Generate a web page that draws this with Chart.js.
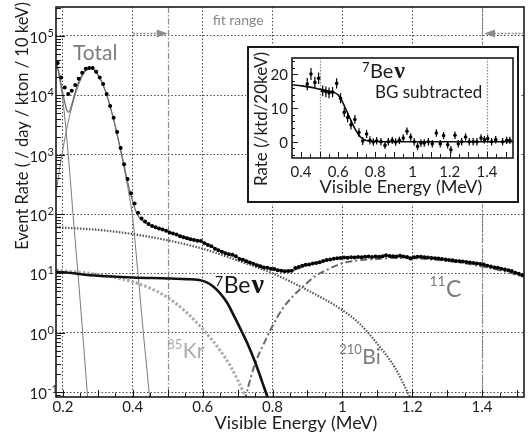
<!DOCTYPE html>
<html>
<head>
<meta charset="utf-8">
<title>7Be neutrino spectrum</title>
<script src="https://cdn.jsdelivr.net/npm/chart.js@4.4.1/dist/chart.umd.min.js"></script>
<style>
    body { margin: 0; background: #fff; }
    #wrap { position: relative; width: 528px; height: 434px; overflow: hidden; }
    #mainChart { position: absolute; left: 0; top: 0; }
    #insetChart { position: absolute; left: 246px; top: 45px; }
</style>
</head>
<body>
<div id="wrap">
    <canvas id="mainChart" width="528" height="434"></canvas>
    <canvas id="insetChart" width="274" height="159"></canvas>
</div>
<script>
const FONT = 'Lato, "Open Sans", sans-serif';
const NU_FONT = '"Liberation Serif", "DejaVu Serif", serif';

// Measured event rate, 10 keV bins starting at 0.185 MeV
const binStart = 0.185;
const binWidth = 0.01;
const eventRate = [
    35000, 20000, 13500, 10500, 12000, 15000, 19000, 24000, 28000, 29000,
    29000, 25000, 20000, 15500, 10500, 6600, 4200, 2400, 1300, 690,
    390, 224, 151, 105, 84, 75, 68, 63, 60, 57,
    55, 52, 49, 47, 45, 42, 40.5, 39, 37.5, 36.5,
    35.5, 35, 32, 30, 28.5, 26, 24.5, 23, 21.8, 21,
    20.5, 19.5, 17.5, 17, 16, 15.2, 14.5, 13.7, 13.2, 12.6,
    12.4, 12, 11.8, 11.3, 11.1, 10.8, 10.9, 11.1, 12.3, 12.8,
    13.4, 13.9, 14.1, 14.6, 15.0, 15.4, 16.2, 16.8, 17.1, 17.6,
    18.0, 18.2, 18.5, 18.3, 18.7, 18.5, 18.9, 18.6, 19.0, 19.2,
    18.8, 19.3, 19.0, 19.4, 20.2, 19.6, 19.5, 19.2, 19.7, 19.3,
    18.9, 17.8, 18.6, 19.0, 19.1, 18.7, 18.5, 18.2, 17.9, 17.8,
    17.5, 17.1, 16.8, 16.6, 16.2, 16.0, 15.8, 15.5, 15.2, 15.0,
    14.7, 14.3, 14.1, 13.4, 13.0, 12.6, 12.4, 11.9, 11.6, 11.3,
    10.9, 10.2, 9.8, 9.3
];

// Fit components (energy in MeV, rate per day/kton/10 keV)
const totalEnergy = [0.182, 0.19, 0.195, 0.20, 0.206, 0.212, 0.216, 0.222, 0.23, 0.24, 0.25, 0.26, 0.27, 0.28, 0.29,
    0.30, 0.31, 0.32, 0.33, 0.34, 0.35, 0.36, 0.37, 0.38, 0.39, 0.40, 0.41, 0.42, 0.43, 0.44, 0.46, 0.48,
    0.50, 0.55, 0.60, 0.65, 0.70, 0.75, 0.80, 0.85, 0.90, 0.95, 1.0, 1.05, 1.1, 1.15, 1.2, 1.25, 1.3, 1.35,
    1.4, 1.45, 1.52];
const totalRate = [36000, 22000, 15000, 10500, 7200, 5500, 5200, 6000, 8800, 14000, 19500, 24500, 27500, 28500, 27000,
    22000, 17500, 12600, 8300, 5100, 3000, 1650, 900, 480, 260, 160, 106, 85, 75, 69, 61, 56,
    51, 41, 34, 24.5, 18.8, 14.5, 12.0, 11.0, 13.8, 16.3, 18.2, 18.9, 19.3, 19.5, 19.0, 18.4, 17.0, 15.7,
    14.2, 12.2, 9.2];

const c14Energy = [0.181, 0.19, 0.195, 0.20, 0.206, 0.215, 0.22, 0.229, 0.24, 0.25, 0.26, 0.27, 0.275];
const c14Rate = [38000, 19000, 13000, 8000, 3800, 1000, 450, 95, 16, 3, 0.52, 0.09, 0.04];

const po210Energy = [0.181, 0.19, 0.20, 0.21, 0.22, 0.23, 0.24, 0.25, 0.26, 0.27, 0.28, 0.29, 0.30, 0.31, 0.32,
    0.33, 0.34, 0.35, 0.36, 0.37, 0.38, 0.39, 0.40, 0.41, 0.42, 0.43, 0.44, 0.45];
const po210Rate = [240, 560, 1250, 2600, 4800, 8000, 12500, 18000, 23500, 27000, 28500, 27000, 22000, 17000, 12300,
    8100, 5000, 2900, 1600, 850, 420, 200, 83, 20, 4.5, 1.0, 0.25, 0.06];

const bi210Energy = [0.18, 0.2, 0.3, 0.4, 0.5, 0.6, 0.7, 0.8, 0.9, 1.0, 1.05, 1.1, 1.15, 1.19, 1.21];
const bi210Rate = [60, 59, 54, 46, 36, 26, 16.5, 10, 5.2, 2.4, 1.4, 0.65, 0.26, 0.09, 0.05];

const kr85Energy = [0.18, 0.2, 0.25, 0.3, 0.35, 0.4, 0.45, 0.5, 0.55, 0.6, 0.65, 0.68, 0.70, 0.72, 0.73];
const kr85Rate = [11.5, 11, 10.4, 9.6, 8.5, 7.2, 5.6, 3.9, 2.3, 1.15, 0.5, 0.27, 0.16, 0.09, 0.065];

const be7Energy = [0.18, 0.2, 0.3, 0.4, 0.5, 0.55, 0.59, 0.61, 0.63, 0.65, 0.67, 0.69, 0.71, 0.73, 0.75, 0.77, 0.79, 0.80];
const be7Rate = [10.6, 10.4, 9.1, 8.5, 8.2, 8.0, 7.7, 7.1, 6.0, 4.6, 3.2, 1.9, 1.1, 0.62, 0.32, 0.15, 0.07, 0.05];

const c11Energy = [0.72, 0.73, 0.75, 0.78, 0.80, 0.83, 0.86, 0.89, 0.92, 0.95, 1.0, 1.05, 1.1, 1.15, 1.2, 1.25,
    1.3, 1.35, 1.4, 1.45, 1.52];
const c11Rate = [0.07, 0.12, 0.3, 0.75, 1.3, 2.6, 4.2, 6.2, 8.8, 11.0, 14.8, 16.6, 17.5, 18.2, 18.0, 17.3,
    16.2, 14.8, 13.0, 11.3, 8.8];

// Axis ticks
const xGridValues = [0.2, 0.4, 0.6, 0.8, 1.0, 1.2, 1.4];
const xTickLabels = ['0.2', '0.4', '0.6', '0.8', '1', '1.2', '1.4'];
const yDecades = [-1, 0, 1, 2, 3, 4, 5];
const fitRange = [0.5, 1.4];
const fitArrowLevel = 1.12e5;

// Inset: 7Be spectrum after background subtraction (20 keV bins)
const insetEnergy = [0.434, 0.454, 0.475, 0.495, 0.517, 0.534, 0.551, 0.570, 0.592, 0.613, 0.633, 0.651, 0.669,
    0.690, 0.712, 0.732, 0.753, 0.771, 0.789, 0.807, 0.830, 0.852, 0.870, 0.891, 0.909, 0.929, 0.950, 0.970,
    0.990, 1.009, 1.027, 1.045, 1.063, 1.085, 1.106, 1.128, 1.149, 1.167, 1.189, 1.206, 1.228, 1.246, 1.264,
    1.285, 1.305, 1.326, 1.346, 1.368, 1.386, 1.404, 1.425, 1.447, 1.484, 1.506, 1.523];
const insetRate = [17.1, 20.1, 17.6, 18.8, 15.1, 14.8, 14.5, 14.7, 17.3, 12.9, 8.7, 7.2, 5.0,
    6.6, 2.7, 0.2, 2.3, 0.4, -0.1, 0.3, 0.0, -1.1, 0.0, 0.4, -0.1, 0.4, 1.1, 3.1,
    1.4, 0.0, -1.4, -0.4, -0.4, 0.0, -0.6, 2.6, -0.6, 1.8, -0.9, -2.4, 1.9, -0.6, 0.0,
    1.4, 0.0, 0.0, 0.0, 1.1, 0.6, 0.9, 0.0, 0.6, 0.0, 0.4, 0.4];
const insetError = [1.8, 1.8, 1.7, 1.7, 1.6, 1.6, 1.6, 1.5, 1.5, 1.5, 1.4, 1.4, 1.4,
    1.3, 1.3, 1.2, 1.2, 1.2, 1.1, 1.1, 1.1, 1.1, 1.1, 1.1, 1.1, 1.1, 1.1, 1.1,
    1.1, 1.1, 1.1, 1.1, 1.1, 1.1, 1.1, 1.1, 1.1, 1.1, 1.1, 1.1, 1.1, 1.1, 1.1,
    1.1, 1.1, 1.1, 1.1, 1.1, 1.1, 1.1, 1.1, 1.1, 1.1, 1.1, 1.1];
const insetFitEnergy = [0.352, 0.40, 0.45, 0.50, 0.55, 0.58, 0.60, 0.62, 0.64, 0.66, 0.68, 0.70, 0.72, 0.74,
    0.77, 0.80, 0.85, 0.95, 1.2, 1.54];
const insetFitRate = [16.9, 16.6, 16.2, 15.6, 15.0, 14.6, 13.9, 12.2, 9.8, 7.4, 5.0, 2.9, 1.4, 0.6,
    0.15, 0.04, 0, 0, 0, 0];
const insetXTicks = [0.4, 0.6, 0.8, 1.0, 1.2, 1.4];
const insetXLabels = ['0.4', '0.6', '0.8', '1', '1.2', '1.4'];
const insetYTicks = [0, 10, 20];

document.addEventListener('DOMContentLoaded', function() {
    drawMainChart();
    drawInsetChart();
});

function toPoints(xs, ys) {
    return xs.map((x, i) => ({ x: x, y: ys[i] }));
}

function curve(xs, ys, color, width, dash) {
    return {
        data: toPoints(xs, ys),
        showLine: true,
        borderColor: color,
        borderWidth: width,
        borderDash: dash || [],
        pointRadius: 0,
        cubicInterpolationMode: 'monotone',
        fill: false
    };
}

// superscripted isotope label, e.g. 85Kr; px is where the element name starts
function drawIsotope(ctx, px, py, mass, name, size, supSize, raise, color, withNu) {
    ctx.save();
    ctx.fillStyle = color;
    ctx.textBaseline = 'alphabetic';
    ctx.textAlign = 'right';
    ctx.font = supSize + 'px ' + FONT;
    ctx.fillText(mass, px - 0.5, py - raise);
    ctx.textAlign = 'left';
    ctx.font = size + 'px ' + FONT;
    ctx.fillText(name, px, py);
    if (withNu) {
        const w = ctx.measureText(name).width;
        ctx.font = 'bold ' + Math.round(size * 1.2) + 'px ' + NU_FONT;
        ctx.fillText('\u03BD', px + w + 1, py);
    }
    ctx.restore();
}

function drawArrow(ctx, fromX, tipX, y) {
    const dir = Math.sign(tipX - fromX);
    const headLen = 11;
    ctx.beginPath();
    ctx.setLineDash([2, 1.5]);
    ctx.moveTo(fromX, y);
    ctx.lineTo(tipX - dir * headLen, y);
    ctx.stroke();
    ctx.setLineDash([]);
    ctx.beginPath();
    ctx.moveTo(tipX, y);
    ctx.lineTo(tipX - dir * headLen, y - 4);
    ctx.lineTo(tipX - dir * headLen, y + 4);
    ctx.closePath();
    ctx.fill();
}

const mainDecor = {
    id: 'mainDecor',
    beforeDatasetsDraw(chart) {
        const { ctx, chartArea: area, scales: { x } } = chart;
        ctx.save();
        ctx.strokeStyle = '#8a8a8a';
        ctx.lineWidth = 1.2;
        ctx.setLineDash([6, 2, 1.5, 2]);
        fitRange.forEach(e => {
            const px = Math.round(x.getPixelForValue(e)) + 0.5;
            ctx.beginPath();
            ctx.moveTo(px, area.top);
            ctx.lineTo(px, area.bottom);
            ctx.stroke();
        });
        ctx.restore();
    },
    afterDraw(chart) {
        const { ctx, chartArea: area, scales: { x, y } } = chart;
        ctx.save();

        // frame
        ctx.strokeStyle = '#1a1a1a';
        ctx.lineWidth = 1.6;
        ctx.strokeRect(area.left, area.top, area.right - area.left, area.bottom - area.top);

        // inner tick marks on the log axis
        ctx.lineWidth = 1;
        for (let e = -2; e <= 5; e++) {
            for (let k = 1; k <= 9; k++) {
                const v = k * Math.pow(10, e);
                if (v < y.min || v > y.max) continue;
                const py = Math.round(y.getPixelForValue(v)) + 0.5;
                ctx.beginPath();
                ctx.moveTo(area.left, py);
                ctx.lineTo(area.left + (k === 1 ? 9 : 5), py);
                ctx.stroke();
            }
        }
        // energy axis ticks every 50 keV
        for (let i = 4; i <= 30; i++) {
            const px = Math.round(x.getPixelForValue(i * 0.05)) + 0.5;
            ctx.beginPath();
            ctx.moveTo(px, area.bottom);
            ctx.lineTo(px, area.bottom - (i % 2 === 0 ? 7 : 4));
            ctx.stroke();
        }

        // tick labels
        ctx.fillStyle = '#1e1e1e';
        ctx.font = '15px ' + FONT;
        ctx.textAlign = 'center';
        ctx.textBaseline = 'middle';
        xGridValues.forEach((v, i) => {
            ctx.fillText(xTickLabels[i], x.getPixelForValue(v), area.bottom + 10);
        });
        yDecades.forEach(e => {
            const py = y.getPixelForValue(Math.pow(10, e));
            ctx.textAlign = 'right';
            ctx.textBaseline = 'middle';
            ctx.font = '15px ' + FONT;
            ctx.fillText('10', area.left - 9, py + 2);
            ctx.textAlign = 'left';
            ctx.textBaseline = 'alphabetic';
            ctx.font = '11px ' + FONT;
            ctx.fillText(String(e), area.left - 8.5, py + 1);
        });

        // axis titles
        ctx.font = '18px ' + FONT;
        ctx.textAlign = 'center';
        ctx.textBaseline = 'alphabetic';
        ctx.fillText('Visible Energy (MeV)', 296, 429);
        ctx.save();
        ctx.translate(28, 126);
        ctx.rotate(-Math.PI / 2);
        ctx.font = '16.5px ' + FONT;
        ctx.fillText('Event Rate ( / day / kton / 10 keV)', 0, 0);
        ctx.restore();

        // fit range marker
        const ay = Math.round(y.getPixelForValue(fitArrowLevel)) + 0.5;
        ctx.strokeStyle = '#8c8c8c';
        ctx.fillStyle = '#8c8c8c';
        ctx.lineWidth = 1.5;
        drawArrow(ctx, x.getPixelForValue(0.4), x.getPixelForValue(fitRange[0]), ay);
        drawArrow(ctx, area.right, x.getPixelForValue(fitRange[1]) + 2, ay);
        ctx.fillStyle = '#858585';
        ctx.font = '14px ' + FONT;
        ctx.textAlign = 'left';
        ctx.fillText('fit range', x.getPixelForValue(0.6286), y.getPixelForValue(1.53e5));

        // component labels
        ctx.fillStyle = '#7c7c7c';
        ctx.font = '21px ' + FONT;
        ctx.fillText('Total', x.getPixelForValue(0.2286), y.getPixelForValue(3.95e4));
        drawIsotope(ctx, x.getPixelForValue(0.66), y.getPixelForValue(4.71), '7', 'Be', 23, 14, 7, '#151515', true);
        drawIsotope(ctx, x.getPixelForValue(0.543), y.getPixelForValue(0.379), '85', 'Kr', 21, 13, 9, '#ababab', false);
        drawIsotope(ctx, x.getPixelForValue(1.057), y.getPixelForValue(0.30), '210', 'Bi', 21, 13, 10, '#7c7c7c', false);
        drawIsotope(ctx, x.getPixelForValue(1.297), y.getPixelForValue(4.04), '11', 'C', 23, 14, 11, '#7c7c7c', false);

        ctx.restore();
    }
};

function drawMainChart() {
    const ctx = document.getElementById('mainChart');
    const dots = eventRate.map((r, i) => ({ x: binStart + i * binWidth, y: r }));

    new Chart(ctx, {
        type: 'scatter',
        data: {
            datasets: [
                {
                    data: dots,
                    pointRadius: 2,
                    pointBackgroundColor: '#000',
                    pointBorderWidth: 0,
                    showLine: false
                },
                curve(totalEnergy, totalRate, '#6e6e6e', 1.3),
                curve(be7Energy, be7Rate, '#111', 2.6),
                curve(c11Energy, c11Rate, '#686868', 2, [7, 3, 2, 3]),
                curve(bi210Energy, bi210Rate, '#555', 2.2, [1.5, 1.5]),
                curve(kr85Energy, kr85Rate, '#ababab', 3, [2.5, 2]),
                curve(po210Energy, po210Rate, '#7a7a7a', 1),
                curve(c14Energy, c14Rate, '#7a7a7a', 1)
            ]
        },
        options: {
            responsive: false,
            animation: false,
            devicePixelRatio: 1,
            events: [],
            layout: { padding: { left: 56, top: 7, right: 3, bottom: 37 } },
            plugins: {
                legend: { display: false },
                tooltip: { enabled: false }
            },
            scales: {
                x: {
                    type: 'linear',
                    min: 0.18,
                    max: 1.52,
                    afterBuildTicks: axis => { axis.ticks = xGridValues.map(v => ({ value: v })); },
                    ticks: { display: false },
                    grid: { color: '#4a4a4a', lineWidth: 1, drawTicks: false },
                    border: { display: false, dash: [1.5, 2] }
                },
                y: {
                    type: 'logarithmic',
                    min: 0.0824,
                    max: 3.08e5,
                    afterBuildTicks: axis => { axis.ticks = yDecades.map(e => ({ value: Math.pow(10, e) })); },
                    ticks: { display: false },
                    grid: { color: '#4a4a4a', lineWidth: 1, drawTicks: false },
                    border: { display: false, dash: [1.5, 2] }
                }
            }
        },
        plugins: [mainDecor]
    });
}

const insetDecor = {
    id: 'insetDecor',
    beforeDraw(chart) {
        const { ctx, width, height } = chart;
        ctx.save();
        ctx.fillStyle = '#fff';
        ctx.fillRect(0, 0, width, height);
        ctx.strokeStyle = '#1a1a1a';
        ctx.lineWidth = 2;
        ctx.strokeRect(2, 2, width - 4, height - 4);
        ctx.restore();
    },
    beforeDatasetsDraw(chart) {
        const { ctx, chartArea: area, scales: { x } } = chart;
        ctx.save();
        ctx.strokeStyle = '#8a8a8a';
        ctx.lineWidth = 1.2;
        ctx.setLineDash([1.5, 1.5]);
        fitRange.forEach(e => {
            const px = Math.round(x.getPixelForValue(e)) + 0.5;
            ctx.beginPath();
            ctx.moveTo(px, area.top);
            ctx.lineTo(px, area.bottom);
            ctx.stroke();
        });
        ctx.restore();
    },
    afterDatasetsDraw(chart) {
        const { ctx, scales: { x, y } } = chart;
        ctx.save();
        ctx.strokeStyle = '#000';
        ctx.lineWidth = 1.2;
        insetEnergy.forEach((e, i) => {
            const px = x.getPixelForValue(e);
            ctx.beginPath();
            ctx.moveTo(px, y.getPixelForValue(insetRate[i] - insetError[i]));
            ctx.lineTo(px, y.getPixelForValue(insetRate[i] + insetError[i]));
            ctx.stroke();
        });
        ctx.restore();
    },
    afterDraw(chart) {
        const { ctx, chartArea: area, scales: { x, y } } = chart;
        ctx.save();
        ctx.strokeStyle = '#1a1a1a';
        ctx.lineWidth = 1.6;
        ctx.strokeRect(area.left, area.top, area.right - area.left, area.bottom - area.top);

        ctx.lineWidth = 1;
        for (let v = -4; v <= 24; v += 2) {
            const py = Math.round(y.getPixelForValue(v)) + 0.5;
            ctx.beginPath();
            ctx.moveTo(area.left, py);
            ctx.lineTo(area.left + (v % 10 === 0 ? 6 : 3), py);
            ctx.stroke();
        }
        for (let i = 8; i <= 30; i++) {
            const px = Math.round(x.getPixelForValue(i * 0.05)) + 0.5;
            ctx.beginPath();
            ctx.moveTo(px, area.bottom);
            ctx.lineTo(px, area.bottom - (i % 2 === 0 ? 6 : 4));
            ctx.stroke();
        }

        ctx.fillStyle = '#1e1e1e';
        ctx.font = '15px ' + FONT;
        ctx.textAlign = 'center';
        ctx.textBaseline = 'middle';
        insetXTicks.forEach((v, i) => {
            ctx.fillText(insetXLabels[i], x.getPixelForValue(v), area.bottom + 14);
        });
        ctx.textAlign = 'right';
        insetYTicks.forEach(v => {
            ctx.fillText(String(v), area.left - 4, y.getPixelForValue(v) + 1);
        });

        ctx.font = '18px ' + FONT;
        ctx.textAlign = 'center';
        ctx.textBaseline = 'alphabetic';
        ctx.fillText('Visible Energy (MeV)', 155, 148);
        ctx.save();
        ctx.translate(21, 74);
        ctx.rotate(-Math.PI / 2);
        ctx.font = '17px ' + FONT;
        ctx.fillText('Rate (/ktd/20keV)', 0, 0);
        ctx.restore();

        drawIsotope(ctx, x.getPixelForValue(0.771), y.getPixelForValue(18.9), '7', 'Be', 20, 13, 6, '#1e1e1e', true);
        ctx.fillStyle = '#1e1e1e';
        ctx.font = '17px ' + FONT;
        ctx.textAlign = 'left';
        ctx.fillText('BG subtracted', x.getPixelForValue(0.798), y.getPixelForValue(13.0));
        ctx.restore();
    }
};

function drawInsetChart() {
    const ctx = document.getElementById('insetChart');

    new Chart(ctx, {
        type: 'scatter',
        data: {
            datasets: [
                {
                    data: toPoints(insetEnergy, insetRate),
                    pointRadius: 1.8,
                    pointBackgroundColor: '#000',
                    pointBorderWidth: 0,
                    showLine: false
                },
                curve(insetFitEnergy, insetFitRate, '#111', 1.6)
            ]
        },
        options: {
            responsive: false,
            animation: false,
            devicePixelRatio: 1,
            events: [],
            layout: { padding: { left: 46, top: 13, right: 7, bottom: 46 } },
            plugins: {
                legend: { display: false },
                tooltip: { enabled: false }
            },
            scales: {
                x: { type: 'linear', min: 0.352, max: 1.54, display: false },
                y: { type: 'linear', min: -4.84, max: 24.84, display: false }
            }
        },
        plugins: [insetDecor]
    });
}
</script>
</body>
</html>
